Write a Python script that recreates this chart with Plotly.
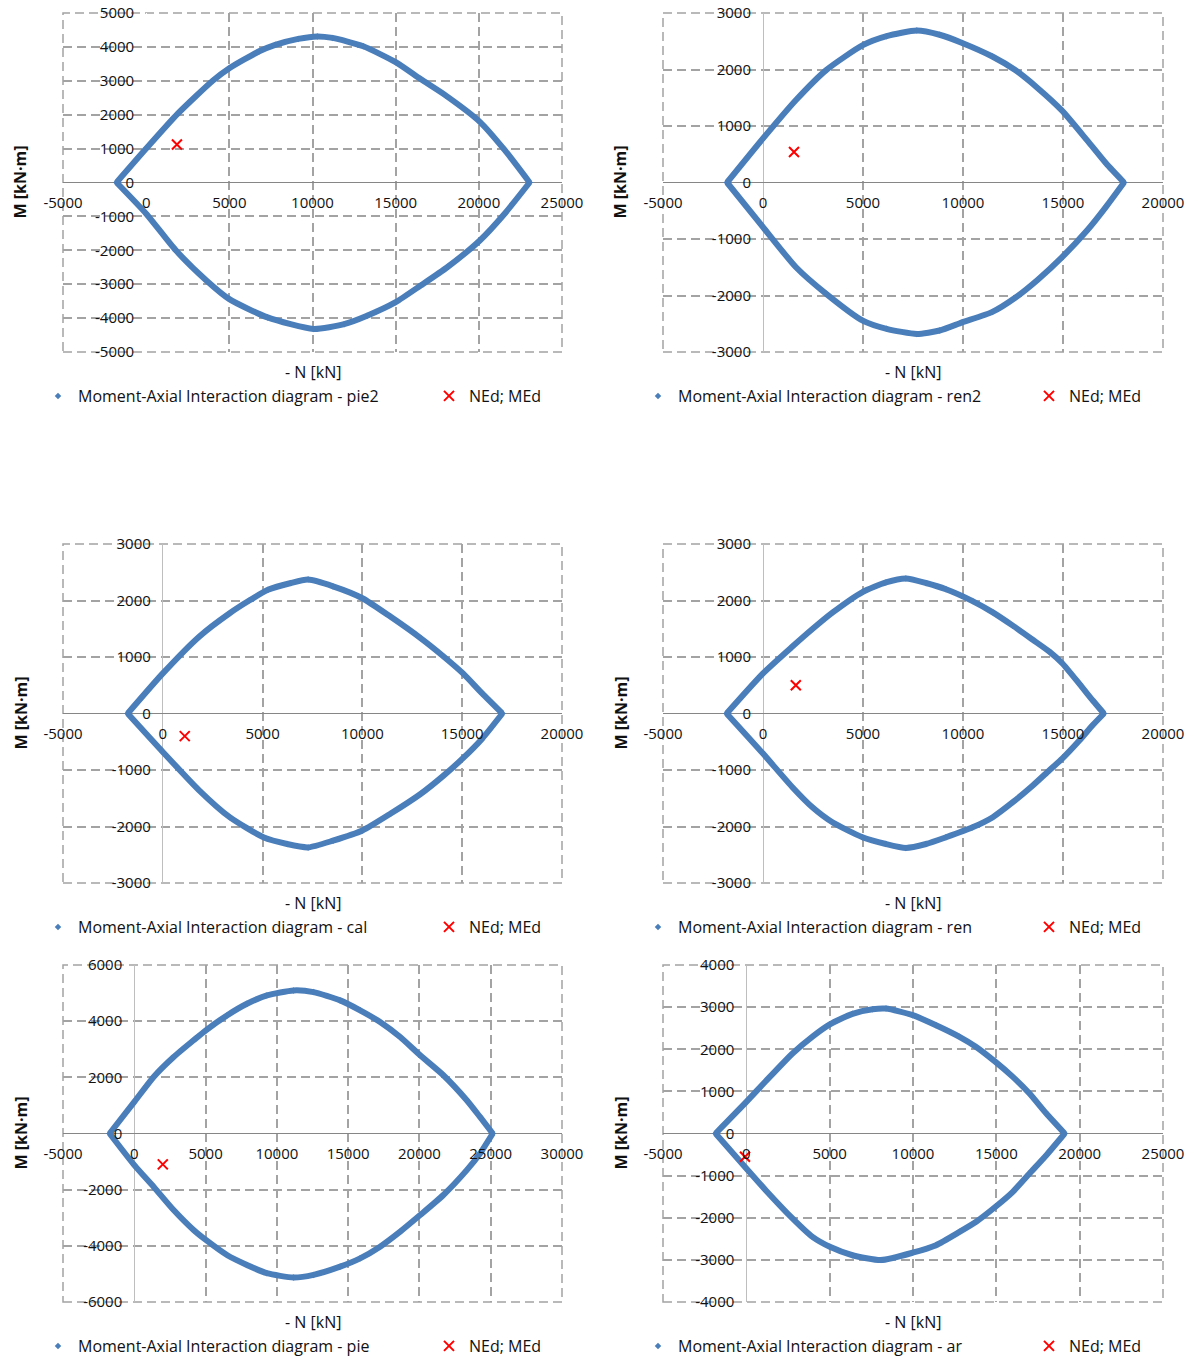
import plotly.graph_objects as go

W, H = 1193, 1360

# ---------------- data ----------------
section_names = ["pie2", "ren2", "cal", "ren", "pie", "ar"]

# upper branch (positive moment) and lower branch (negative moment), from left vertex to right vertex
pie2_up_N = [-1780, 0, 1900, 4000, 5000, 6800, 7760, 9140, 10290, 11200, 13050, 15000, 16500, 18000, 20060, 21550, 23050]
pie2_up_M = [0, 1000, 2030, 3000, 3370, 3870, 4060, 4235, 4310, 4265, 4020, 3550, 3050, 2570, 1790, 960, 0]
pie2_lo_N = [-1780, 0, 1780, 3620, 5000, 7300, 10060, 11900, 13280, 15000, 16500, 18100, 20060, 21550, 23050]
pie2_lo_M = [0, -920, -2000, -2890, -3440, -3980, -4320, -4180, -3930, -3530, -3040, -2500, -1710, -920, 0]

ren2_up_N = [-1800, 0, 1650, 3160, 4990, 6180, 7690, 8830, 9960, 11470, 12610, 13740, 14930, 16200, 17150, 18050]
ren2_up_M = [0, 780, 1460, 1990, 2430, 2590, 2690, 2615, 2470, 2230, 1990, 1670, 1280, 750, 340, 0]
ren2_lo_N = [-1800, 0, 1650, 3160, 4990, 6180, 7690, 8830, 9960, 11470, 12610, 13740, 14930, 16200, 17150, 18050]
ren2_lo_M = [0, -790, -1500, -1970, -2445, -2590, -2680, -2620, -2475, -2290, -2040, -1720, -1330, -850, -430, 0]

cal_up_N = [-1760, 0, 1820, 3350, 4310, 5270, 6420, 7280, 8530, 10000, 11400, 12930, 14080, 15040, 16000, 17010]
cal_up_M = [0, 710, 1360, 1775, 1995, 2190, 2310, 2370, 2250, 2040, 1715, 1330, 1005, 710, 355, 0]
cal_lo_N = [-1760, 0, 1820, 3350, 5040, 6230, 7280, 8530, 10000, 11400, 12930, 14080, 15040, 16000, 17010]
cal_lo_M = [0, -680, -1360, -1835, -2190, -2310, -2370, -2250, -2070, -1775, -1420, -1095, -790, -445, 0]

ren_up_N = [-1820, 0, 1470, 2470, 3470, 4975, 6145, 7145, 8150, 9150, 10480, 11490, 12490, 13490, 14320, 14960, 15830, 16490, 17045]
ren_up_M = [0, 710, 1185, 1495, 1785, 2150, 2320, 2390, 2310, 2200, 1990, 1790, 1555, 1305, 1095, 890, 520, 230, 0]
ren_lo_N = [-1820, 0, 1470, 2470, 3470, 4975, 6145, 7145, 8150, 9150, 10480, 11490, 12490, 13490, 14320, 14960, 15830, 16490, 17045]
ren_lo_M = [0, -710, -1305, -1660, -1925, -2190, -2310, -2380, -2310, -2190, -2015, -1835, -1570, -1275, -1005, -800, -475, -205, 0]

pie_up_N = [-1730, 0, 1355, 2760, 4160, 5020, 6500, 7900, 9300, 11170, 12570, 14440, 15840, 17240, 18650, 20050, 21680, 23320, 24250, 25140]
pie_up_M = [0, 1125, 2015, 2725, 3320, 3675, 4205, 4620, 4915, 5095, 5035, 4740, 4385, 3970, 3435, 2785, 2075, 1185, 590, 0]
pie_lo_N = [-1730, 0, 1355, 2760, 4160, 5020, 6500, 7900, 9300, 11170, 12570, 14440, 15840, 17240, 18650, 20050, 21680, 23320, 24250, 25140]
pie_lo_M = [0, -1125, -1895, -2725, -3435, -3790, -4325, -4680, -4975, -5130, -5035, -4740, -4445, -4030, -3495, -2905, -2190, -1305, -710, 0]

ar_up_N = [-1845, 0, 1160, 2770, 3970, 5010, 6370, 7575, 8380, 9980, 11380, 12790, 13790, 14950, 15990, 16990, 18000, 19100]
ar_up_M = [0, 750, 1240, 1900, 2300, 2590, 2840, 2950, 2965, 2810, 2570, 2295, 2055, 1700, 1345, 950, 475, 0]
ar_lo_N = [-1845, 0, 1160, 2770, 3970, 5010, 6370, 8080, 9980, 11380, 12790, 13790, 14950, 15990, 16990, 18000, 19100]
ar_lo_M = [0, -830, -1345, -2015, -2455, -2690, -2890, -3005, -2830, -2650, -2335, -2095, -1740, -1385, -950, -515, 0]

NEd = [1850, 1550, 1100, 1640, 2000, -80]
MEd = [1120, 540, -400, 500, -1100, -550]

x_min = [-5000, -5000, -5000, -5000, -5000, -5000]
x_max = [25000, 20000, 20000, 20000, 30000, 25000]
x_step = [5000, 5000, 5000, 5000, 5000, 5000]
y_min = [-5000, -3000, -3000, -3000, -6000, -4000]
y_max = [5000, 3000, 3000, 3000, 6000, 4000]
y_step = [1000, 1000, 1000, 1000, 2000, 1000]

upper_N = [pie2_up_N, ren2_up_N, cal_up_N, ren_up_N, pie_up_N, ar_up_N]
upper_M = [pie2_up_M, ren2_up_M, cal_up_M, ren_up_M, pie_up_M, ar_up_M]
lower_N = [pie2_lo_N, ren2_lo_N, cal_lo_N, ren_lo_N, pie_lo_N, ar_lo_N]
lower_M = [pie2_lo_M, ren2_lo_M, cal_lo_M, ren_lo_M, pie_lo_M, ar_lo_M]

# ---------------- styling / layout ----------------
BLUE = "#4A7EBB"
GRID = "#A3A3A3"
GRID_DASH = "9px,5px"
GRID_W = 1.5
TXT = "#111111"
FONT = "Open Sans"

# plot-area boxes in pixels: left, right, top, bottom
boxes = [(63, 562, 13, 352), (663, 1163, 13, 352),
         (63, 562, 544, 883), (663, 1163, 544, 883),
         (63, 562, 965, 1302), (663, 1163, 965, 1302)]

fig = go.Figure()
layout = dict(
    width=W, height=H, margin=dict(l=0, r=0, t=0, b=0, autoexpand=False),
    paper_bgcolor="white", plot_bgcolor="white",
    font=dict(family=FONT, color=TXT),
    annotations=[], shapes=[], hovermode=False,
)

for i in range(6):
    k = i + 1
    sfx = "" if k == 1 else str(k)
    xref, yref = "x" + sfx, "y" + sfx
    leg = "legend" + sfx
    l, r, t, b = boxes[i]
    xd = [l / W, r / W]
    yd = [1 - b / H, 1 - t / H]
    xpos_paper = xd[0] + (0 - x_min[i]) / (x_max[i] - x_min[i]) * (xd[1] - xd[0])
    ypos_paper = yd[0] + (0 - y_min[i]) / (y_max[i] - y_min[i]) * (yd[1] - yd[0])

    xt = list(range(x_min[i], x_max[i] + 1, x_step[i]))
    yt = list(range(y_min[i], y_max[i] + 1, y_step[i]))

    layout["xaxis" + sfx] = dict(
        domain=xd, range=[x_min[i], x_max[i]], tickmode="array",
        tickvals=xt, ticktext=[str(v) for v in xt],
        showgrid=True, gridcolor=GRID, griddash=GRID_DASH, gridwidth=GRID_W,
        zeroline=True, zerolinecolor=("#FFFFFF" if k == 1 else "#BEBEBE"), zerolinewidth=1.3,
        showline=False, ticks="", anchor="free", position=ypos_paper,
        tickfont=dict(family=FONT, size=15, color=TXT), ticklabelstandoff=9,
        fixedrange=True, automargin=False,
    )
    layout["yaxis" + sfx] = dict(
        domain=yd, range=[y_min[i], y_max[i]], tickmode="array",
        tickvals=yt, ticktext=[str(v) for v in yt],
        showgrid=True, gridcolor=GRID, griddash=GRID_DASH, gridwidth=GRID_W,
        zeroline=True, zerolinecolor="#868686", zerolinewidth=1.3,
        showline=False, ticks="", anchor="free", position=xpos_paper,
        tickfont=dict(family=FONT, size=15, color=TXT), ticklabelstandoff=12,
        fixedrange=True, automargin=False,
    )
    # dashed frame of the plot area (outer grid lines)
    layout["shapes"].append(dict(
        type="rect", xref=xref + " domain", yref=yref + " domain",
        x0=0, x1=1, y0=0, y1=1, layer="below",
        line=dict(color=GRID, width=GRID_W, dash=GRID_DASH)))
    layout[leg] = dict(
        orientation="h", x=(l - 25) / W, xanchor="left",
        y=1 - (b + 44) / H, yanchor="middle",
        font=dict(family=FONT, size=16, color=TXT),
        entrywidth=346, entrywidthmode="pixels",
        bgcolor="rgba(0,0,0,0)", borderwidth=0, tracegroupgap=0,
    )
    layout["annotations"].append(dict(
        text="- N [kN]", xref="paper", yref="paper",
        x=(l + r) / 2 / W, y=1 - (b + 19.5) / H, showarrow=False,
        xanchor="center", yanchor="middle", font=dict(family=FONT, size=16, color=TXT)))
    layout["annotations"].append(dict(
        text="<b>M [kN·m]</b>", xref="paper", yref="paper", textangle=-90,
        x=(l - 43) / W, y=ypos_paper, showarrow=False,
        xanchor="center", yanchor="middle", font=dict(family=FONT, size=16, color=TXT)))

    # legend entry for the diagram (points of both branches)
    fig.add_trace(go.Scatter(
        x=upper_N[i] + lower_N[i], y=upper_M[i] + lower_M[i], mode="markers",
        marker=dict(symbol="diamond", size=5, color=BLUE),
        name="Moment-Axial Interaction diagram - " + section_names[i],
        xaxis=xref, yaxis=yref, legend=leg, showlegend=True))
    for bn, bm in ((upper_N[i], upper_M[i]), (lower_N[i], lower_M[i])):
        fig.add_trace(go.Scatter(
            x=bn, y=bm, mode="lines",
            line=dict(color=BLUE, width=6, shape="spline", smoothing=0.6),
            xaxis=xref, yaxis=yref, showlegend=False, hoverinfo="skip"))
    fig.add_trace(go.Scatter(
        x=[NEd[i]], y=[MEd[i]], mode="markers",
        marker=dict(symbol="x-thin", size=10, color="#FF0000",
                    line=dict(width=2, color="#FF0000")),
        name="NEd; MEd", xaxis=xref, yaxis=yref, legend=leg, showlegend=True))

fig.update_layout(**layout)
fig.write_html("out.html")
